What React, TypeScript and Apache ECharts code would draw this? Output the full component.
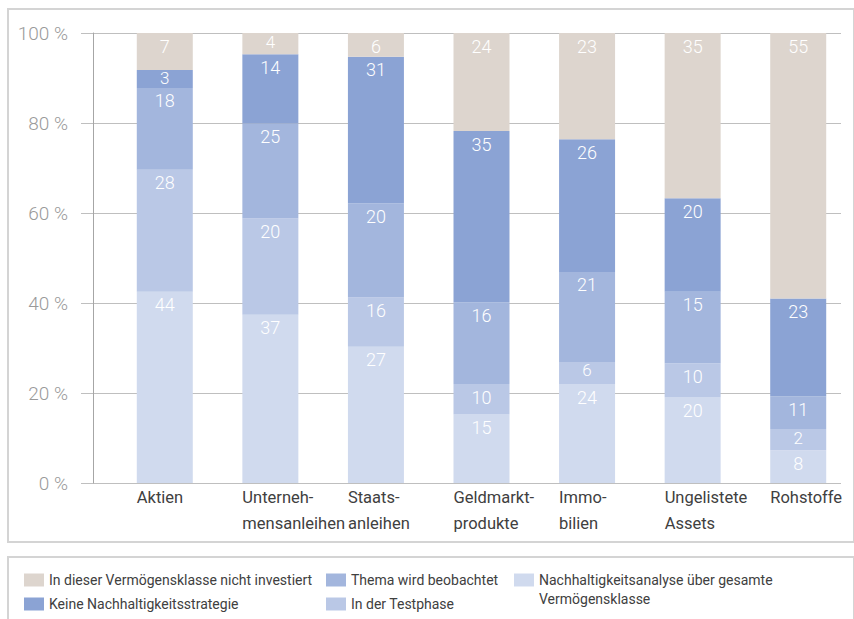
import React, { useEffect, useRef } from "react";
import * as echarts from "echarts";

const categories = [
  "Aktien",
  "Unterneh-\nmensanleihen",
  "Staats-\nanleihen",
  "Geldmarkt-\nprodukte",
  "Immo-\nbilien",
  "Ungelistete\nAssets",
  "Rohstoffe",
];

const seriesNames = [
  "Nachhaltigkeitsanalyse über gesamte Vermögensklasse",
  "In der Testphase",
  "Thema wird beobachtet",
  "Keine Nachhaltigkeitsstrategie",
  "In dieser Vermögensklasse nicht investiert",
];

// printed labels (as shown in the segments)
const labelGesamteKlasse = [44, 37, 27, 15, 24, 20, 8];
const labelTestphase = [28, 20, 16, 10, 6, 10, 2];
const labelBeobachtet = [18, 25, 20, 16, 21, 15, 11];
const labelKeineStrategie = [3, 14, 31, 35, 26, 20, 23];
const labelNichtInvestiert = [7, 4, 6, 24, 23, 35, 55];

// segment heights in %
const heightGesamteKlasse = [42.5, 37.4, 30.3, 15.2, 22.0, 19.0, 7.3];
const heightTestphase = [27.1, 21.4, 10.9, 6.8, 4.9, 7.6, 4.7];
const heightBeobachtet = [18.2, 21.1, 20.9, 18.1, 20.0, 15.9, 7.3];
const heightKeineStrategie = [4.0, 15.4, 32.6, 38.1, 29.5, 20.8, 21.7];
const heightNichtInvestiert = [8.2, 4.7, 5.3, 21.8, 23.6, 36.7, 59.0];

const yTicks = [0, 20, 40, 60, 80, 100];

const colors = ["#D0DAEE", "#BAC8E6", "#A3B6DD", "#8BA3D4", "#DDD5CE"];

const FONT = "Roboto, 'Open Sans', sans-serif";

export default function App() {
  const ref = useRef<HTMLDivElement>(null);
  useEffect(() => {
    if (!ref.current) return;
    const chart = echarts.init(ref.current, null, { renderer: "svg" });
    const heights = [
      heightGesamteKlasse,
      heightTestphase,
      heightBeobachtet,
      heightKeineStrategie,
      heightNichtInvestiert,
    ];
    const labels = [
      labelGesamteKlasse,
      labelTestphase,
      labelBeobachtet,
      labelKeineStrategie,
      labelNichtInvestiert,
    ];
    const series = heights.map((arr, i) => ({
      name: seriesNames[i],
      type: "bar",
      stack: "total",
      xAxisIndex: 1,
      yAxisIndex: 1,
      barWidth: 56,
      data: arr.map((v) =>
        v < 5
          ? { value: v, label: { distance: 0, fontSize: 17 } }
          : { value: v }
      ),
      itemStyle: { color: colors[i] },
      label: {
        show: true,
        position: "insideTop",
        distance: 4,
        color: "#ffffff",
        fontSize: 18,
        fontWeight: 300,
        fontFamily: FONT,
        formatter: (p: any) => String(labels[i][p.dataIndex]),
      },
    }));

    const legendBase = {
      orient: "horizontal",
      itemWidth: 20,
      itemHeight: 13,
      itemGap: 6,
      icon: "rect",
      selectedMode: false,
      padding: 0,
      textStyle: { fontSize: 14, color: "#404040", fontFamily: FONT, padding: [0, 0, 0, 0] },
    };

    chart.setOption({
      animation: false,
      textStyle: { fontFamily: FONT },
      grid: [
        { left: 93, right: 13, top: 33, bottom: 136 },
        { left: 112, right: 3, top: 33, bottom: 136 },
        { left: 84, right: 31, top: 33, bottom: 136 },
      ],
      xAxis: [
        { type: "category", gridIndex: 0, data: categories, show: false },
        { type: "category", gridIndex: 1, data: categories, show: false },
        {
          type: "category",
          gridIndex: 2,
          data: categories,
          axisLine: { show: false },
          axisTick: { show: false },
          axisLabel: {
            align: "left",
            margin: 1,
            color: "#404040",
            fontSize: 16.5,
            lineHeight: 26,
            fontFamily: FONT,
            interval: 0,
          },
        },
      ],
      yAxis: [
        {
          type: "value",
          gridIndex: 0,
          min: yTicks[0],
          max: yTicks[yTicks.length - 1],
          interval: 20,
          axisLine: { show: true, lineStyle: { color: "#a6a6a6", width: 1 } },
          axisTick: { show: true, length: 12, lineStyle: { color: "#bfbfbf" } },
          splitLine: { show: true, lineStyle: { color: "#bfbfbf", width: 1 } },
          axisLabel: {
            margin: 25,
            color: "#9a9a9a",
            fontSize: 19,
            fontWeight: 300,
            fontFamily: FONT,
            formatter: (v: number) => `${v} %`,
          },
        },
        { type: "value", gridIndex: 1, min: 0, max: 100, show: false },
        { type: "value", gridIndex: 2, min: 0, max: 100, show: false },
      ],
      legend: [
        { ...legendBase, data: [seriesNames[4]], left: 24, top: 573 },
        { ...legendBase, data: [seriesNames[3]], left: 24, top: 597 },
        { ...legendBase, data: [seriesNames[2]], left: 326, top: 573 },
        { ...legendBase, data: [seriesNames[1]], left: 326, top: 597 },
        {
          ...legendBase,
          data: [seriesNames[0]],
          left: 514,
          top: 573,
          formatter: () => "Nachhaltigkeitsanalyse über gesamte",
        },
      ],
      graphic: [
        {
          type: "rect",
          shape: { x: 8, y: 9, width: 846, height: 533 },
          style: { fill: "none", stroke: "#d4d4d4", lineWidth: 2 },
          silent: true,
        },
        {
          type: "rect",
          shape: { x: 8, y: 557, width: 846, height: 80 },
          style: { fill: "none", stroke: "#d4d4d4", lineWidth: 2 },
          silent: true,
        },
        {
          type: "text",
          x: 539,
          y: 592,
          style: {
            text: "Vermögensklasse",
            fontSize: 14,
            fill: "#404040",
            fontFamily: FONT,
          },
          silent: true,
        },
      ],
      series,
    });
    return () => chart.dispose();
  }, []);
  return (
    <div
      ref={ref}
      style={{ position: "absolute", left: 0, top: 0, width: 854, height: 619, background: "#fff" }}
    />
  );
}
